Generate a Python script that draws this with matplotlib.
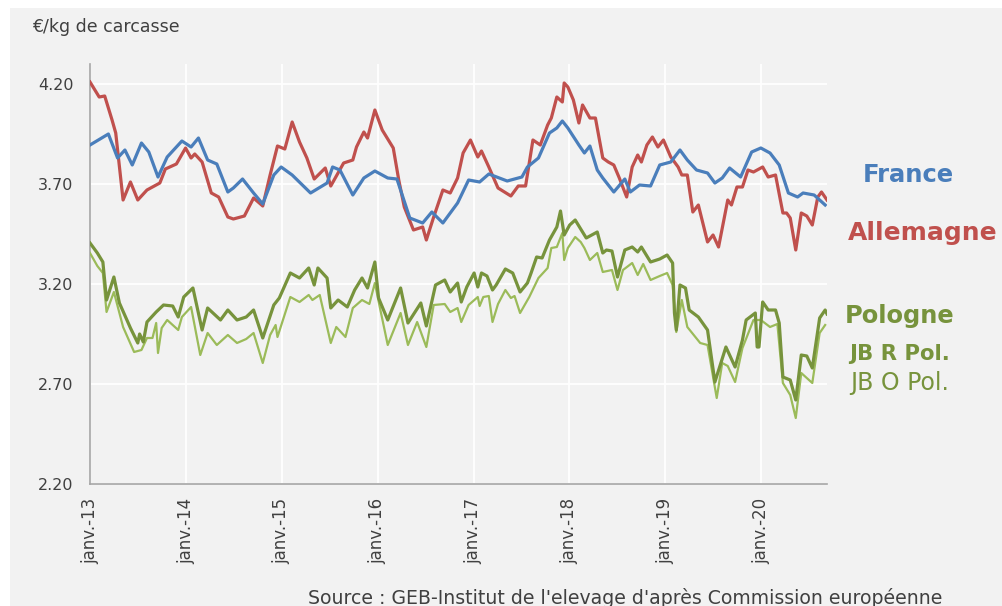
import numpy as np
import pandas as pd
import matplotlib
matplotlib.use("Agg")
import matplotlib.pyplot as plt
from matplotlib.patches import Rectangle

# ---- data (weeks since 2013-01-01, €/kg carcasse) ----
fr_weeks = [0,10,15,19,23,28,32,37,42,50,55,59,64,69,75,78,83,89,94,100,104,110,120,129,132,136,143,149,155,162,167,174,181,186,192,200,206,212,217,227,235,238,244,250,254,257,260,266,269,272,276,279,285,291,294,299,305,310,316,321,325,330,336,340,344,348,354,360,365,370,375,380,385,388,394,400]
fr_vals = [3.895,3.95,3.83,3.87,3.795,3.905,3.86,3.735,3.835,3.915,3.885,3.93,3.82,3.80,3.66,3.68,3.725,3.655,3.60,3.745,3.785,3.745,3.655,3.705,3.785,3.77,3.645,3.73,3.765,3.73,3.725,3.53,3.505,3.56,3.505,3.605,3.72,3.71,3.75,3.715,3.735,3.785,3.83,3.955,3.98,4.015,3.98,3.895,3.855,3.89,3.77,3.73,3.66,3.725,3.66,3.695,3.69,3.795,3.81,3.87,3.82,3.77,3.755,3.705,3.73,3.78,3.735,3.86,3.88,3.855,3.795,3.655,3.635,3.655,3.645,3.595]

de_weeks = [0,5,8,12,14,18,22,26,31,34,38,41,47,52,55,57,61,66,70,75,78,84,89,94,98,102,106,110,114,118,122,128,131,138,143,145,149,151,155,159,165,168,171,176,181,183,187,192,196,200,203,207,211,213,217,222,229,233,237,241,245,249,251,254,257,258,260,263,266,268,272,275,279,282,285,288,292,295,298,300,303,306,309,312,316,320,322,325,328,331,336,339,342,347,349,352,355,358,361,366,369,373,377,379,381,384,387,390,393,396,398,401]
de_vals = [4.21,4.135,4.14,4.02,3.955,3.62,3.71,3.62,3.67,3.685,3.705,3.775,3.80,3.88,3.83,3.85,3.81,3.655,3.635,3.535,3.525,3.54,3.63,3.59,3.745,3.89,3.875,4.01,3.91,3.83,3.725,3.78,3.69,3.805,3.82,3.885,3.96,3.93,4.07,3.97,3.88,3.72,3.585,3.47,3.485,3.42,3.535,3.67,3.655,3.73,3.855,3.92,3.835,3.865,3.785,3.68,3.64,3.69,3.69,3.92,3.895,3.995,4.03,4.135,4.11,4.205,4.185,4.12,4.005,4.095,4.03,4.03,3.83,3.81,3.795,3.73,3.635,3.785,3.845,3.81,3.895,3.935,3.885,3.92,3.835,3.785,3.745,3.745,3.56,3.595,3.41,3.445,3.385,3.62,3.595,3.685,3.685,3.77,3.76,3.785,3.735,3.745,3.555,3.555,3.53,3.37,3.555,3.54,3.495,3.635,3.66,3.62]

jbr_weeks = [0,4,7,9,13,16,22,26,27,29,31,36,40,45,48,51,56,61,64,71,75,80,85,89,94,100,103,109,114,119,122,124,129,131,135,140,144,148,151,155,157,162,169,173,180,183,188,193,196,200,202,205,209,211,213,216,219,221,226,230,234,238,240,243,246,250,254,256,258,261,264,268,270,276,279,281,284,287,291,295,298,300,305,310,314,317,318,319,321,324,326,331,336,340,346,351,355,357,362,363,364,366,369,373,375,377,381,384,387,390,393,397,400,401]
jbr_vals = [3.405,3.355,3.31,3.12,3.235,3.105,2.98,2.905,2.95,2.91,3.01,3.06,3.095,3.09,3.035,3.135,3.18,2.97,3.08,3.02,3.07,3.02,3.035,3.07,2.93,3.095,3.13,3.255,3.23,3.28,3.195,3.28,3.23,3.08,3.12,3.085,3.17,3.23,3.18,3.31,3.13,3.02,3.18,3.005,3.105,2.99,3.195,3.22,3.16,3.205,3.11,3.185,3.255,3.185,3.255,3.24,3.17,3.195,3.275,3.255,3.16,3.205,3.255,3.335,3.33,3.42,3.485,3.565,3.445,3.495,3.52,3.46,3.43,3.46,3.355,3.37,3.365,3.235,3.37,3.385,3.36,3.385,3.31,3.325,3.345,3.305,3.055,2.97,3.195,3.18,3.07,3.035,2.97,2.71,2.885,2.785,2.92,3.02,3.055,2.885,2.885,3.11,3.07,3.07,3.005,2.735,2.72,2.62,2.845,2.84,2.78,3.03,3.07,3.05]

jbo_weeks = [0,4,7,9,13,18,24,28,31,34,36,37,39,42,48,50,55,60,64,69,75,80,85,89,94,98,101,102,109,114,119,121,125,131,134,139,143,148,152,155,158,162,169,173,178,183,187,193,196,200,202,206,211,212,214,217,219,222,226,229,231,234,239,244,249,251,254,257,258,260,264,267,269,272,276,279,284,287,290,295,298,301,305,310,314,317,319,322,325,332,336,341,344,347,351,355,361,365,370,374,377,381,384,387,393,397,400]
jbo_vals = [3.355,3.29,3.255,3.06,3.16,2.985,2.86,2.87,2.93,2.93,3.005,2.855,2.98,3.02,2.97,3.035,3.085,2.845,2.955,2.895,2.945,2.905,2.925,2.955,2.805,2.945,2.995,2.935,3.135,3.11,3.145,3.12,3.145,2.905,2.985,2.935,3.08,3.12,3.10,3.205,3.07,2.895,3.055,2.895,3.01,2.885,3.095,3.10,3.06,3.08,3.01,3.095,3.135,3.09,3.135,3.14,3.01,3.10,3.17,3.13,3.14,3.055,3.135,3.23,3.28,3.38,3.385,3.455,3.32,3.38,3.435,3.41,3.38,3.32,3.355,3.26,3.27,3.17,3.27,3.305,3.245,3.30,3.22,3.24,3.255,3.195,2.96,3.12,2.985,2.905,2.895,2.63,2.805,2.79,2.71,2.88,3.02,3.02,2.985,3.00,2.705,2.645,2.53,2.755,2.705,2.955,2.995]

years = list(range(2013, 2021))
xtick_labels = ["janv.-%02d" % (y % 100) for y in years]
yticks = [2.20, 2.70, 3.20, 3.70, 4.20]

series_labels = ["France", "Allemagne", "Pologne", "JB R Pol.", "JB O Pol."]

start = pd.Timestamp("2013-01-01")
def to_dates(w):
    return start + pd.to_timedelta(np.array(w) * 7, unit="D")

BLUE = "#4a7ebb"
RED = "#c0504d"
DGREEN = "#77933c"
LGREEN = "#9bbb59"
BG = "#f2f2f2"
TXT = "#404040"

plt.rcParams['font.family'] = ['DejaVu Sans']

fig = plt.figure(figsize=(10.02, 6.06), dpi=100)
fig.patch.set_facecolor("white")
fig.patches.append(Rectangle((10/1002, 0), 1 - 10/1002, 1 - 8/606,
                             transform=fig.transFigure, facecolor=BG,
                             edgecolor="none", zorder=-10))

ax = fig.add_axes([90/1002, 1 - 484/606, (827-90)/1002, (484-64)/606])
ax.set_zorder(2)
ax.set_facecolor(BG)

ax.plot(to_dates(jbo_weeks), jbo_vals, color=LGREEN, lw=1.6, zorder=3)
ax.plot(to_dates(jbr_weeks), jbr_vals, color=DGREEN, lw=2.3, zorder=4)
ax.plot(to_dates(de_weeks), de_vals, color=RED, lw=2.3, zorder=5)
ax.plot(to_dates(fr_weeks), fr_vals, color=BLUE, lw=2.3, zorder=6)

ax.set_ylim(2.20, 4.30)
ax.set_xlim(start, start + pd.Timedelta(weeks=401))
ax.set_yticks(yticks)
ax.set_yticklabels(["%.2f" % v for v in yticks], fontsize=11.5, color=TXT)
ax.set_xticks([pd.Timestamp(y, 1, 1) for y in years])
ax.set_xticklabels(xtick_labels, rotation=90, fontsize=12, color=TXT)
ax.tick_params(axis="y", length=0, pad=12)
ax.tick_params(axis="x", length=0, pad=10)
ax.grid(True, color="white", lw=1.3, zorder=1)
ax.set_axisbelow(True)
for s in ["top", "right"]:
    ax.spines[s].set_visible(False)
for s in ["left", "bottom"]:
    ax.spines[s].set_color("#a6a6a6")
    ax.spines[s].set_linewidth(1.2)

fig.text(32/1002, 1 - 32/606, "€/kg de carcasse", fontsize=12.5, color=TXT,
         va="baseline", ha="left")

label_specs = [
    (series_labels[0], 863, 182, BLUE, "bold", 17.5),
    (series_labels[1], 848, 240, RED, "bold", 18),
    (series_labels[2], 845, 323, DGREEN, "bold", 17.4),
    (series_labels[3], 849, 360, DGREEN, "bold", 15.3),
    (series_labels[4], 850, 390, DGREEN, "normal", 17),
]
for txt, x, y, c, w, fs in label_specs:
    fig.text(x/1002, 1 - y/606, txt, color=c, fontweight=w, fontsize=fs,
             ha="left", va="baseline")

fig.text(625/1002, 1 - 604/606,
         "Source : GEB-Institut de l'elevage d'après Commission européenne",
         fontsize=13.6, color=TXT, ha="center", va="baseline")

fig.savefig("out.png", dpi=100, facecolor=fig.get_facecolor())
